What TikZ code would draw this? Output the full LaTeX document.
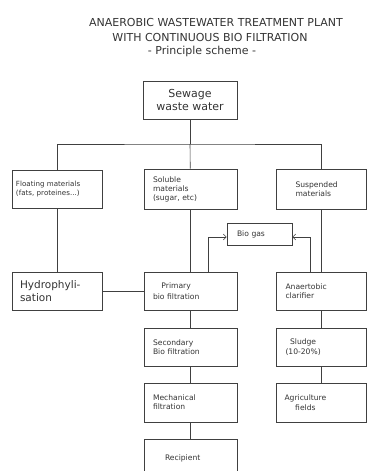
\documentclass[tikz,border=0pt]{standalone}
\usepackage{fontspec}
\setmainfont{DejaVu Sans}
\usetikzlibrary{arrows.meta}

\tikzset{
  box/.style={draw=black!75, line width=0.6pt, inner sep=0pt, minimum height=38pt,
    align=left, text=black!80, font=\fontsize{7.6}{9}\selectfont},
  link/.style={draw=black!75, line width=0.6pt},
  gasflow/.style={link, -{Straight Barb[length=3pt,width=6pt]}},
  title/.style={text=black!80, font=\fontsize{11}{12}\selectfont}
}

\begin{document}
\begin{tikzpicture}[x=1pt,y=-1pt]
\useasboundingbox (0,0) rectangle (369,471);

\node[title] (t1) at (216,22) {ANAEROBIC WASTEWATER TREATMENT PLANT};
\node[title] (t2) at (210,37) {WITH CONTINUOUS BIO FILTRATION};
\node[title] (t3) at (202,51) {- Principle scheme -};

\node[box, minimum width=94pt, align=center, font=\fontsize{11}{12.5}\selectfont] (sewage) at (190,100) {Sewage\\waste water};

\node[box, minimum width=90pt, text width=82pt, font=\fontsize{7.1}{9}\selectfont] (floating) at (57,189) {Floating materials\\(fats, proteines...)};
\node[box, minimum width=93pt, minimum height=40pt, text width=75pt] (soluble) at (190.5,189) {Soluble\\materials\\(sugar, etc)};
\node[box, minimum width=90pt, minimum height=40pt, text width=52pt] (suspended) at (321.5,189) {Suspended\\materials};

\node[box, minimum width=65pt, minimum height=22pt, text width=45pt] (biogas) at (259.5,234) {Bio gas};

\node[box, minimum width=90pt, text width=74pt, font=\fontsize{10.5}{12.5}\selectfont] (hydro) at (57,291) {Hydrophyli-\\sation};
\node[box, minimum width=93pt, text width=75pt] (primary) at (190.5,291) {\shortstack{Primary\\bio filtration}};
\node[box, minimum width=90pt, text width=72pt] (anaerobic) at (321.5,291) {Anaertobic\\clarifier};

\node[box, minimum width=93pt, text width=75pt] (secondary) at (190.5,347) {Secondary\\Bio filtration};
\node[box, minimum width=90pt, text width=72pt] (sludge) at (321.5,347) {\shortstack{Sludge\\(10-20\%)}};

\node[box, minimum width=93pt, minimum height=39pt, text width=75pt] (mechanical) at (190.5,402.5) {Mechanical\\filtration};
\node[box, minimum width=90pt, minimum height=39pt, text width=74pt] (agriculture) at (321.5,402.5) {\shortstack{Agriculture\\fields}};

\node[box, minimum width=93pt, text width=75pt] (recipient) at (190.5,458) {\hspace*{12pt}Recipient};

\coordinate (split) at (190,144);
\draw[link] (sewage) -- (split);
\draw[link] (floating.north) |- (split) -| (suspended.north);
\draw[link] (split) -- (soluble);

\draw[link] (floating) -- (hydro);
\draw[link] (hydro) -- (primary);
\draw[link] (soluble) -- (primary);
\draw[link] (suspended) -- (anaerobic);

\draw[gasflow] ([xshift=17.5pt]primary.north) |- ([yshift=-3pt]biogas.west);
\draw[gasflow] ([xshift=-11.5pt]anaerobic.north) |- ([yshift=-3pt]biogas.east);

\draw[link] (primary) -- (secondary);
\draw[link] (secondary) -- (mechanical);
\draw[link] (mechanical) -- (recipient);
\draw[link] (anaerobic) -- (sludge);
\draw[link] (sludge) -- (agriculture);
\end{tikzpicture}
\end{document}
